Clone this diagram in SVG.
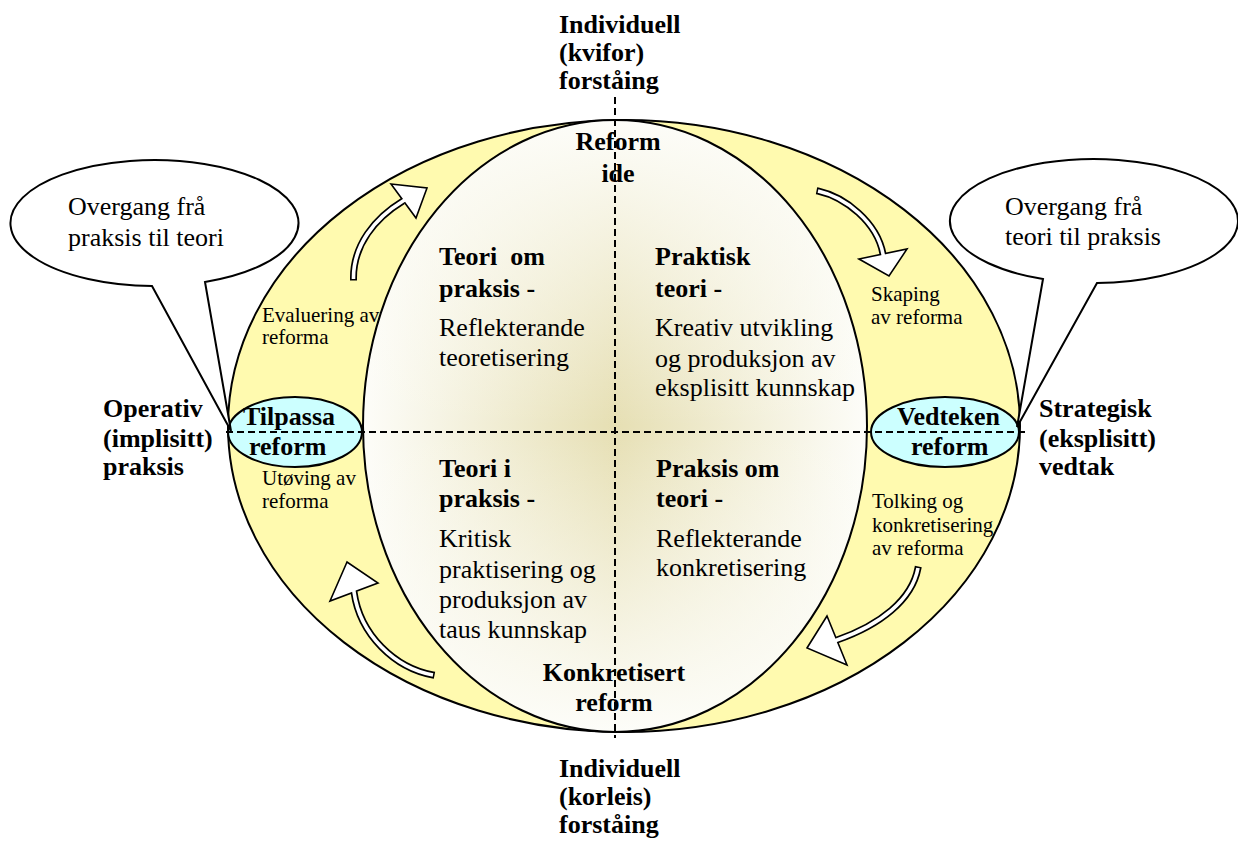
<svg xmlns="http://www.w3.org/2000/svg" width="1238" height="842" viewBox="0 0 1238 842">
  <style>
    text { font-family: "Liberation Serif", "Times New Roman", serif; fill: #000; }
    .b { font-size: 26px; font-weight: bold; }
    .r { font-size: 26px; }
    .s { font-size: 21px; }
    .mid { text-anchor: middle; }
    .pre { white-space: pre; }
    .outline { stroke: #000; stroke-width: 2; }
    .axis { fill: none; stroke: #000; stroke-width: 2; stroke-dasharray: 7 4; }
    .shaft-o { fill: none; stroke: #000; stroke-width: 7; stroke-linecap: butt; }
    .shaft-i { fill: none; stroke: #fff; stroke-width: 3.6; stroke-linecap: butt; }
    .head { fill: #fff; stroke: #000; stroke-width: 1.6; stroke-linejoin: miter; }
    .bubble { fill: #fff; stroke: #000; stroke-width: 2; stroke-linejoin: miter; }
    .lens { fill: #ccffff; stroke: #000; stroke-width: 2; }
  </style>
  <defs>
    <linearGradient id="fadeX" x1="0" y1="0" x2="1" y2="0">
      <stop offset="0" stop-color="#fdfdf9" stop-opacity="1"/>
      <stop offset="0.5" stop-color="#fdfdf9" stop-opacity="0"/>
      <stop offset="1" stop-color="#fdfdf9" stop-opacity="1"/>
    </linearGradient>
    <linearGradient id="fadeY" x1="0" y1="0" x2="0" y2="1">
      <stop offset="0" stop-color="#fdfdf9" stop-opacity="1"/>
      <stop offset="0.5" stop-color="#fdfdf9" stop-opacity="0"/>
      <stop offset="1" stop-color="#fdfdf9" stop-opacity="1"/>
    </linearGradient>
  </defs>

  <rect width="1238" height="842" fill="#fff"/>

  <!-- outer yellow cycle -->
  <g id="cycle">
    <ellipse cx="624" cy="426" rx="396" ry="306" fill="#fffaaf" class="outline"/>
    <text class="s" x="262" y="322">Evaluering av</text>
    <text class="s" x="262" y="344">reforma</text>
    <text class="s" x="871" y="301">Skaping</text>
    <text class="s" x="871" y="324">av reforma</text>
    <text class="s" x="262" y="485">Utøving av</text>
    <text class="s" x="262" y="508">reforma</text>
    <text class="s" x="872" y="508">Tolking og</text>
    <text class="s" x="872" y="532">konkretisering</text>
    <text class="s" x="872" y="555">av reforma</text>
  </g>

  <!-- inner knowledge field -->
  <g id="core">
    <ellipse cx="615" cy="426" rx="252" ry="306" fill="#e6dfb3"/>
    <ellipse cx="615" cy="426" rx="252" ry="306" fill="url(#fadeX)"/>
    <ellipse cx="615" cy="426" rx="252" ry="306" fill="url(#fadeY)"/>
    <ellipse cx="615" cy="426" rx="252" ry="306" fill="none" class="outline"/>
  </g>

  <g id="node-tilpassa">
    <ellipse cx="295" cy="432" rx="67" ry="35" class="lens"/>
    <text class="b" x="243" y="425">Tilpassa</text>
    <text class="b" x="249" y="455">reform</text>
  </g>

  <g id="node-vedteken">
    <ellipse cx="945" cy="432" rx="74" ry="35" class="lens"/>
    <text class="b" x="897" y="425">Vedteken</text>
    <text class="b" x="911" y="455">reform</text>
  </g>

  <!-- curved cycle arrows -->
  <g id="connectors">
    <g id="arrow-evaluering">
      <path class="shaft-o" d="M353.5,280.5 L353.5,279 C353,245 375,218 403,201"/>
      <polygon class="head" points="391,184 427,188 416,218"/>
      <path class="shaft-i" d="M353.5,279 C353,245 375,218 403,201 L404.7,200"/>
    </g>
    <g id="arrow-skaping">
      <path class="shaft-o" d="M816.5,190.7 L818,191 C845,197 877,222 883,254"/>
      <polygon class="head" points="859,259 907,249 889,276"/>
      <path class="shaft-i" d="M818,191 C845,197 877,222 883,254 L883.4,256"/>
    </g>
    <g id="arrow-tolking">
      <path class="shaft-o" d="M918.3,566.5 L918,568 C912,600 880,625 837,640"/>
      <polygon class="head" points="827,616 807,648 847,665"/>
      <path class="shaft-i" d="M918,568 C912,600 880,625 837,640 L835.1,640.7"/>
    </g>
    <g id="arrow-utoving">
      <path class="shaft-o" d="M434.5,675.3 L433,675 C395,668 360,635 354,592"/>
      <polygon class="head" points="347,562 330,601 378,583"/>
      <path class="shaft-i" d="M433,675 C395,668 360,635 354,592 L353.7,590"/>
    </g>
  </g>

  <!-- speech bubbles -->
  <g id="bubble-left">
    <path class="bubble" d="M205,282 A144,63 0 1 0 152,286 L231,431 Z"/>
    <text class="r" x="68" y="215">Overgang frå</text>
    <text class="r" x="68" y="246">praksis til teori</text>
  </g>
  <g id="bubble-right">
    <path class="bubble" d="M1043,279 A144,62 0 1 1 1097,283 L1017,427 Z"/>
    <text class="r" x="1005" y="215">Overgang frå</text>
    <text class="r" x="1005" y="245">teori til praksis</text>
  </g>

  <!-- quadrant texts -->
  <g id="q-teori-om-praksis">
    <text class="b pre" x="439" y="265">Teori  om</text>
    <text class="b" x="439" y="297">praksis -</text>
    <text class="r" x="439" y="336">Reflekterande</text>
    <text class="r" x="439" y="366">teoretisering</text>
  </g>
  <g id="q-praktisk-teori">
    <text class="b" x="655" y="265">Praktisk</text>
    <text class="b" x="655" y="297">teori -</text>
    <text class="r" x="655" y="336">Kreativ utvikling</text>
    <text class="r" x="655" y="367">og produksjon av</text>
    <text class="r" x="655" y="396">eksplisitt kunnskap</text>
  </g>
  <g id="q-teori-i-praksis">
    <text class="b" x="439" y="477">Teori i</text>
    <text class="b" x="439" y="507">praksis -</text>
    <text class="r" x="439" y="547">Kritisk</text>
    <text class="r" x="439" y="578">praktisering og</text>
    <text class="r" x="439" y="608">produksjon av</text>
    <text class="r" x="439" y="638">taus kunnskap</text>
  </g>
  <g id="q-praksis-om-teori">
    <text class="b" x="656" y="477">Praksis om</text>
    <text class="b" x="656" y="507">teori -</text>
    <text class="r" x="656" y="547">Reflekterande</text>
    <text class="r" x="656" y="576">konkretisering</text>
  </g>

  <g id="node-reform-ide">
    <text class="b mid" x="618" y="150">Reform</text>
    <text class="b mid" x="618" y="182">ide</text>
  </g>
  <g id="node-konkretisert">
    <text class="b mid" x="614" y="681">Konkretisert</text>
    <text class="b mid" x="614" y="711">reform</text>
  </g>

  <!-- axes -->
  <g id="axes">
    <path class="axis" d="M615,97 V738"/>
    <path class="axis" d="M226,432 H1027"/>
  </g>

  <!-- pole labels -->
  <g id="pole-top">
    <text class="b" x="559" y="33">Individuell</text>
    <text class="b" x="559" y="61">(kvifor)</text>
    <text class="b" x="559" y="89">forståing</text>
  </g>
  <g id="pole-bottom">
    <text class="b" x="559" y="777">Individuell</text>
    <text class="b" x="559" y="805">(korleis)</text>
    <text class="b" x="559" y="833">forståing</text>
  </g>
  <g id="pole-left">
    <text class="b" x="103" y="417">Operativ</text>
    <text class="b" x="103" y="447">(implisitt)</text>
    <text class="b" x="103" y="475">praksis</text>
  </g>
  <g id="pole-right">
    <text class="b" x="1039" y="417">Strategisk</text>
    <text class="b" x="1039" y="447">(eksplisitt)</text>
    <text class="b" x="1039" y="475">vedtak</text>
  </g>
</svg>
